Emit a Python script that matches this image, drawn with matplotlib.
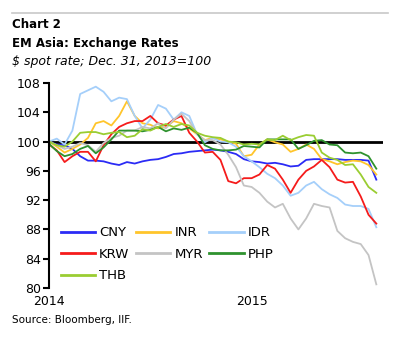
import matplotlib
matplotlib.use("Agg")
import matplotlib.pyplot as plt
import matplotlib.dates as mdates
import pandas as pd

# biweekly readings, index Dec. 31, 2013 = 100
dates = pd.date_range("2014-01-01", periods=43, freq="14D")

cny = [100.0, 99.6, 99.5, 99.0, 98.0, 97.4, 97.4, 97.3, 97.0, 96.8, 97.2,
       97.0, 97.3, 97.5, 97.6, 97.9, 98.3, 98.4, 98.6, 98.7, 98.8, 98.9,
       98.8, 98.6, 98.3, 97.6, 97.3, 97.2, 97.0, 97.1, 96.9, 96.6, 96.7,
       97.5, 97.6, 97.6, 97.6, 97.6, 97.5, 97.5, 97.5, 97.4, 94.8]
inr = [100.0, 99.3, 98.5, 99.0, 99.6, 100.5, 102.5, 102.8, 102.2, 103.5,
       105.5, 103.5, 102.5, 102.3, 101.8, 102.0, 102.8, 102.5, 101.8, 101.0,
       100.2, 100.5, 100.3, 100.0, 99.7, 98.0, 98.2, 99.6, 100.3, 99.9, 99.6,
       98.6, 99.0, 99.6, 99.0, 97.6, 97.3, 96.9, 97.2, 97.4, 97.3, 96.8, 95.5]
idr = [100.0, 100.4, 99.6, 101.5, 106.5, 107.0, 107.5, 106.8, 105.5, 106.0,
       105.8, 103.5, 101.8, 103.0, 105.0, 104.5, 103.0, 104.0, 103.5, 101.0,
       99.9, 100.5, 100.0, 99.9, 99.3, 98.0, 97.3, 96.5, 95.6, 95.0, 94.0,
       92.6, 93.0, 94.0, 94.5, 93.5, 92.8, 92.3, 91.4, 91.2, 91.2, 90.8, 88.3]
krw = [99.6, 98.8, 97.2, 98.0, 98.6, 98.6, 97.3, 99.5, 101.0, 102.0, 102.5,
       102.8, 102.8, 103.5, 102.5, 102.2, 103.0, 103.5, 101.2, 100.0, 98.5,
       98.6, 97.5, 94.6, 94.3, 95.0, 95.0, 95.5, 96.8, 96.3, 94.8, 93.0, 94.8,
       96.0, 96.6, 97.5, 96.5, 94.8, 94.4, 94.5, 92.5, 90.0, 88.8]
myr = [100.0, 99.5, 99.0, 99.3, 99.8, 99.5, 98.6, 99.8, 100.5, 100.8, 101.5,
       101.5, 102.0, 101.8, 102.5, 101.8, 103.0, 103.8, 102.8, 101.0, 100.2,
       100.2, 99.6, 98.2, 96.5, 94.0, 93.8, 93.0, 91.8, 91.0, 91.5, 89.5, 88.0,
       89.5, 91.5, 91.2, 91.0, 87.8, 86.8, 86.3, 86.0, 84.5, 80.5]
php = [99.7, 98.7, 98.0, 98.3, 99.0, 99.4, 98.4, 99.2, 100.3, 101.5, 101.5,
       101.5, 101.4, 101.6, 102.0, 101.4, 101.8, 101.6, 101.9, 101.2, 99.5,
       99.0, 98.8, 98.8, 98.9, 99.4, 99.3, 99.2, 100.3, 100.3, 100.3, 100.3,
       99.0, 99.5, 100.1, 100.2, 99.6, 99.5, 98.5, 98.4, 98.5, 98.0, 96.3]
thb = [100.0, 99.5, 99.3, 100.0, 101.2, 101.3, 101.3, 101.0, 101.2, 101.3,
       100.6, 100.8, 101.7, 101.5, 102.0, 102.4, 102.0, 102.4, 102.2, 101.2,
       100.8, 100.6, 100.5, 100.0, 99.9, 99.6, 99.7, 99.6, 100.3, 100.2, 100.8,
       100.2, 100.6, 100.9, 100.8, 98.5, 97.8, 97.5, 96.8, 96.9, 95.5, 93.8,
       93.0]

names = ["CNY", "INR", "IDR", "KRW", "MYR", "PHP", "THB"]
series = [cny, inr, idr, krw, myr, php, thb]
colors = ["#2B2BF5", "#FFC52B", "#A5CFFA", "#F51B1B", "#C4C4C4", "#2E922E", "#9ACD32"]

fig = plt.figure(figsize=(4, 3.45), dpi=100)
ax = fig.add_axes([0.1225, 0.1652, 0.835, 0.5942])

ax.axhline(100, color="black", lw=2, zorder=1)
lines = {}
for name, vals, c in zip(names, series, colors):
    lines[name], = ax.plot(dates, vals, color=c, lw=1.3, label=name, zorder=2)

ax.set_ylim(80, 108)
ax.set_yticks(range(80, 109, 4))
ax.set_xlim(pd.Timestamp("2014-01-01"), pd.Timestamp("2015-08-24"))
ax.set_xticks([pd.Timestamp("2014-01-01"), pd.Timestamp("2015-01-01")])
ax.xaxis.set_major_formatter(mdates.DateFormatter("%Y"))

for s in ["top", "right", "bottom"]:
    ax.spines[s].set_visible(False)
ax.spines["left"].set_linewidth(1.5)
ax.tick_params(axis="y", direction="out", length=4, width=1.5, labelsize=9, pad=2)
ax.tick_params(axis="x", length=0, labelsize=9, pad=5)

# legend filled row by row: CNY INR IDR / KRW MYR PHP / THB
order = ["CNY", "KRW", "THB", "INR", "MYR", "IDR", "PHP"]
leg_lines = []
for n in order:
    h = plt.Line2D([], [], color=lines[n].get_color(), lw=2)
    leg_lines.append(h)
ax.legend(leg_lines, order, loc="lower left", bbox_to_anchor=(0.0, -0.03), ncol=3,
          frameon=False, fontsize=9.5, handlelength=2.6, handletextpad=0.3,
          columnspacing=0.5, labelspacing=0.65)

fig.add_artist(plt.Line2D([0.03, 0.97], [1 - 13 / 345] * 2, color="#C8C8C8", lw=1.2))
fig.text(0.03, 1 - 25 / 345, "Chart 2", fontsize=8.5, fontweight="bold", va="center")
fig.text(0.03, 1 - 43 / 345, "EM Asia: Exchange Rates", fontsize=8.5, fontweight="bold", va="center")
fig.text(0.03, 1 - 61 / 345, "$ spot rate; Dec. 31, 2013=100", fontsize=9, style="italic", va="center")
fig.text(0.03, 1 - 320 / 345, "Source: Bloomberg, IIF.", fontsize=7.5, va="center")

fig.savefig("out.png", dpi=100)
